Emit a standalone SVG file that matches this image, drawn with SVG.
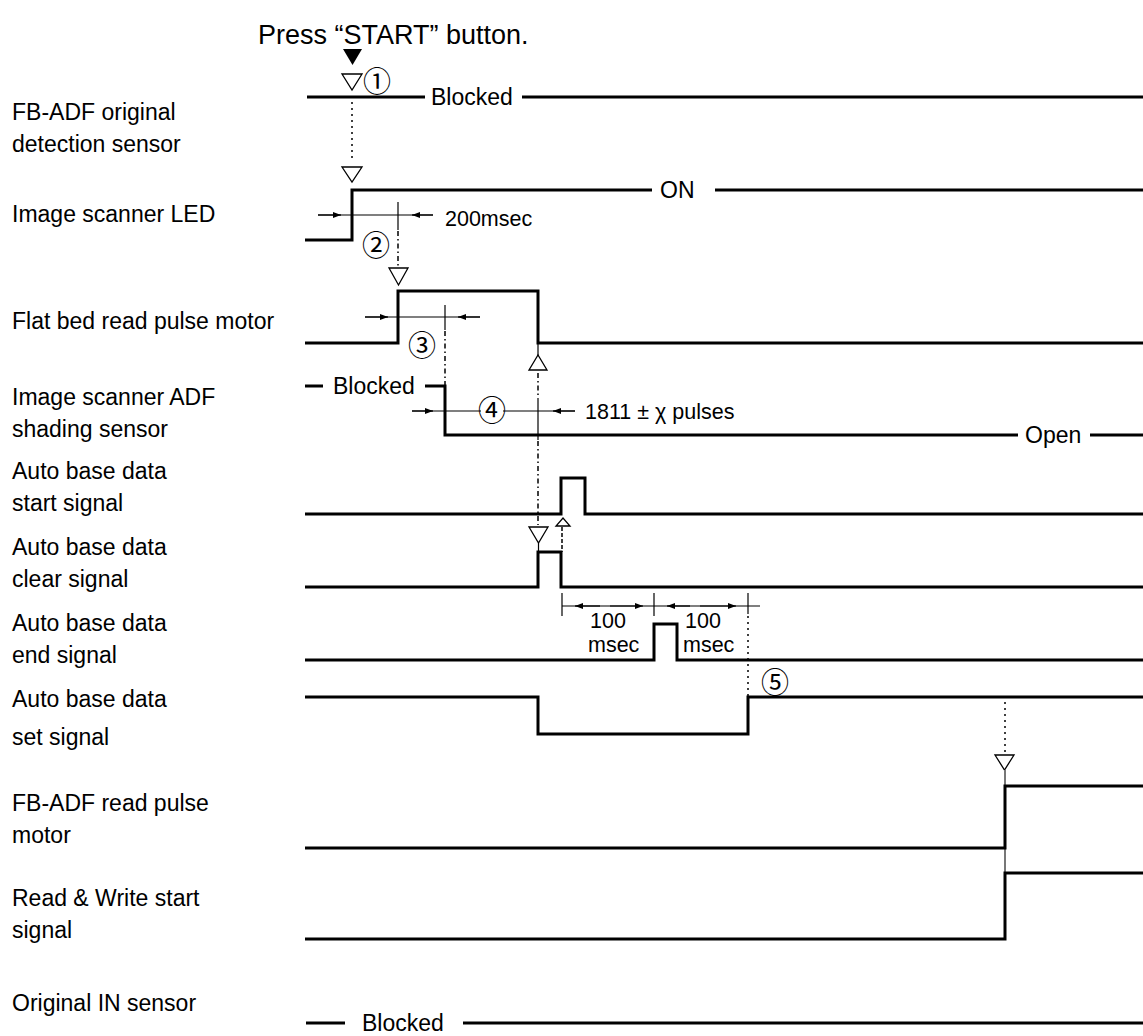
<svg xmlns="http://www.w3.org/2000/svg" width="1143" height="1036" viewBox="0 0 1143 1036">
<defs>
<marker id="ah" viewBox="0 0 8 6" refX="8" refY="3" markerWidth="8" markerHeight="6" markerUnits="userSpaceOnUse" orient="auto">
<path d="M0,0 L8,3 L0,6 z" fill="#000"/>
</marker>
<style>
.sig{fill:none;stroke:#000;stroke-width:3;stroke-linejoin:miter}
.lbl{font-family:"Liberation Sans",Arial,sans-serif;font-size:23px;fill:#000}
.ttl{font-family:"Liberation Sans",Arial,sans-serif;font-size:27px;fill:#000}
.dim{font-family:"Liberation Sans",Arial,sans-serif;font-size:21.5px;fill:#000}
.num{font-family:"Noto Sans CJK JP","DejaVu Sans",sans-serif;font-size:28px;text-anchor:middle;fill:#000}
.thin{stroke:#000;stroke-width:1.2;fill:none}
.arr{stroke:#000;stroke-width:1.2;fill:none;marker-end:url(#ah)}
.dot{stroke:#000;stroke-width:1.5;stroke-dasharray:2 4;fill:none}
.dd{stroke:#000;stroke-width:1.5;stroke-dasharray:5 3 1.5 3;fill:none}
.tri{fill:#fff;stroke:#000;stroke-width:1.3}
</style>
</defs>
<rect width="1143" height="1036" fill="#fff"/>

<text class="ttl" x="258" y="44">Press “START” button.</text>

<g id="connectors">
<!-- start trigger -->
<polygon points="343,49 362,49 352.5,65" fill="#000"/>
<polygon class="tri" points="342,74 362,74 352,90"/>
<text class="num" x="377" y="92">①</text>
<line class="dot" x1="352" y1="102" x2="352" y2="160"/>
<polygon class="tri" points="342,167 362,167 352,182"/>

<!-- 200msec -->
<line class="thin" x1="318" y1="215" x2="433" y2="215"/>
<line class="arr" x1="318" y1="215" x2="341" y2="215"/>
<line class="arr" x1="433" y1="215" x2="412" y2="215"/>
<line class="thin" x1="398" y1="202" x2="398" y2="230"/>
<text class="dim" x="445" y="226">200msec</text>
<text class="num" x="376" y="256">②</text>
<line class="dd" x1="398" y1="231" x2="398" y2="266"/>
<polygon class="tri" points="389,268 408,268 398.5,285"/>

<!-- 3 -->
<line class="thin" x1="365" y1="317" x2="480" y2="317"/>
<line class="arr" x1="365" y1="317" x2="388" y2="317"/>
<line class="arr" x1="480" y1="317" x2="458" y2="317"/>
<line class="thin" x1="445" y1="305" x2="445" y2="330"/>
<line class="dd" x1="445" y1="331" x2="445" y2="386"/>
<text class="num" x="422" y="356">③</text>

<!-- triangle up from motor fall -->
<line class="thin" x1="538" y1="343" x2="538" y2="356"/>
<polygon class="tri" points="529,370 547,370 538,355"/>
<line class="dd" x1="538" y1="373" x2="538" y2="398"/>

<!-- 4 -->
<line class="thin" x1="412" y1="411" x2="481" y2="411"/>
<line class="thin" x1="503" y1="411" x2="575" y2="411"/>
<line class="arr" x1="412" y1="411" x2="433" y2="411"/>
<line class="arr" x1="575" y1="411" x2="553" y2="411"/>
<line class="thin" x1="538" y1="398" x2="538" y2="440"/>
<text class="num" x="492" y="421">④</text>
<text class="dim" x="585" y="419">1811 ± χ pulses</text>
<line class="dd" x1="538" y1="441" x2="538" y2="525"/>
<polygon class="tri" points="529,527 548,527 538.5,543"/>
<line class="thin" x1="538.5" y1="543" x2="538.5" y2="552"/>

<!-- clear to start -->
<line x1="562" y1="527" x2="562" y2="552" stroke="#000" stroke-width="1.5" stroke-dasharray="4 2"/>
<polygon class="tri" points="556,526 570,526 563,518"/>

<!-- 100 msec -->
<line class="thin" x1="562" y1="606" x2="760" y2="606"/>
<line class="thin" x1="562" y1="593" x2="562" y2="616"/>
<line class="thin" x1="654" y1="593" x2="654" y2="616"/>
<line class="thin" x1="748" y1="593" x2="748" y2="614"/>
<line class="arr" x1="600" y1="606" x2="575" y2="606"/>
<line class="arr" x1="610" y1="606" x2="643" y2="606"/>
<line class="arr" x1="690" y1="606" x2="667" y2="606"/>
<line class="arr" x1="700" y1="606" x2="736" y2="606"/>
<text class="dim" x="590" y="628">100</text>
<text class="dim" x="588" y="652">msec</text>
<text class="dim" x="685" y="628">100</text>
<text class="dim" x="683" y="652">msec</text>
<line class="dot" x1="748" y1="616" x2="748" y2="696"/>
<text class="num" x="775" y="693">⑤</text>

<!-- set to FB-ADF read -->
<line class="dot" x1="1005" y1="702" x2="1005" y2="754"/>
<polygon class="tri" points="995,755 1014,755 1004.5,770"/>
<line x1="1005" y1="770" x2="1005" y2="940" stroke="#777" stroke-width="2"/>
</g>

<g id="fbadf-original-detection-sensor">
<text class="lbl" x="12" y="120">FB-ADF original</text>
<text class="lbl" x="12" y="152">detection sensor</text>
<path class="sig" d="M307,97 H425 M522,97 H1143"/>
<text class="lbl" x="431" y="105">Blocked</text>
</g>

<g id="image-scanner-led">
<text class="lbl" x="12" y="222">Image scanner LED</text>
<path class="sig" d="M305,240 H352 V190 H652 M715,190 H1143"/>
<text class="lbl" x="660" y="198">ON</text>
</g>

<g id="flat-bed-read-pulse-motor">
<text class="lbl" x="12" y="329">Flat bed read pulse motor</text>
<path class="sig" d="M305,343 H398 V291 H538 V343 H1143"/>
</g>

<g id="image-scanner-adf-shading-sensor">
<text class="lbl" x="12" y="405">Image scanner ADF</text>
<text class="lbl" x="12" y="437">shading sensor</text>
<path class="sig" d="M305,386 H323 M425,386 H445 V435 H1018 M1090,435 H1143"/>
<text class="lbl" x="333" y="394">Blocked</text>
<text class="lbl" x="1025" y="443">Open</text>
</g>

<g id="auto-base-data-start-signal">
<text class="lbl" x="12" y="479">Auto base data</text>
<text class="lbl" x="12" y="511">start signal</text>
<path class="sig" d="M305,514 H561 V478 H585 V514 H1143"/>
</g>

<g id="auto-base-data-clear-signal">
<text class="lbl" x="12" y="555">Auto base data</text>
<text class="lbl" x="12" y="587">clear signal</text>
<path class="sig" d="M305,587 H538 V552 H561 V587 H1143"/>
</g>

<g id="auto-base-data-end-signal">
<text class="lbl" x="12" y="631">Auto base data</text>
<text class="lbl" x="12" y="663">end signal</text>
<path class="sig" d="M305,660 H654 V624 H677 V660 H1143"/>
</g>

<g id="auto-base-data-set-signal">
<text class="lbl" x="12" y="707">Auto base data</text>
<text class="lbl" x="12" y="745">set signal</text>
<path class="sig" d="M305,697 H538 V734 H748 V697 H1143"/>
</g>

<g id="fbadf-read-pulse-motor">
<text class="lbl" x="12" y="811">FB-ADF read pulse</text>
<text class="lbl" x="12" y="843">motor</text>
<path class="sig" d="M305,848 H1005 V786 H1143"/>
</g>

<g id="read-write-start-signal">
<text class="lbl" x="12" y="906">Read &amp; Write start</text>
<text class="lbl" x="12" y="938">signal</text>
<path class="sig" d="M305,939 H1005 V873 H1143"/>
</g>

<g id="original-in-sensor">
<text class="lbl" x="12" y="1011">Original IN sensor</text>
<path class="sig" d="M306,1023 H345 M463,1023 H1143"/>
<text class="lbl" x="362" y="1031">Blocked</text>
</g>
</svg>
